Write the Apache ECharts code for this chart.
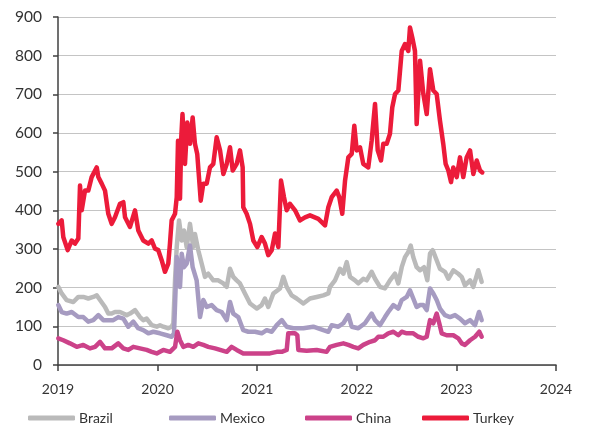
<!DOCTYPE html>
<html><head><meta charset="utf-8">
<script src="https://cdn.jsdelivr.net/npm/echarts@6/dist/echarts.min.js"></script>
<style>html,body{margin:0;padding:0;background:#fff}#c{width:595px;height:429px}</style>
</head><body><div id="c"></div>
<script>
const seriesNames = ['Brazil','Mexico','China','Turkey'];
const xTicks = [2019,2020,2021,2022,2023,2024];

const brazilT = [2019.003,2019.037,2019.087,2019.154,2019.204,2019.221,2019.254,2019.304,2019.354,2019.389,2019.422,2019.472,2019.505,2019.539,2019.572,2019.622,2019.656,2019.690,2019.723,2019.773,2019.823,2019.856,2019.890,2019.941,2019.991,2020.024,2020.057,2020.107,2020.141,2020.158,2020.175,2020.192,2020.215,2020.242,2020.265,2020.292,2020.325,2020.358,2020.375,2020.409,2020.443,2020.476,2020.509,2020.559,2020.609,2020.660,2020.694,2020.727,2020.760,2020.794,2020.827,2020.877,2020.928,2020.995,2021.045,2021.078,2021.111,2021.162,2021.229,2021.262,2021.296,2021.346,2021.396,2021.463,2021.530,2021.597,2021.664,2021.714,2021.731,2021.781,2021.831,2021.865,2021.899,2021.932,2021.982,2022.015,2022.065,2022.099,2022.149,2022.183,2022.233,2022.283,2022.333,2022.384,2022.417,2022.451,2022.484,2022.517,2022.541,2022.567,2022.601,2022.635,2022.675,2022.708,2022.735,2022.762,2022.802,2022.835,2022.885,2022.919,2022.969,2023.019,2023.053,2023.086,2023.137,2023.170,2023.220,2023.254];
const brazilV = [202,185,168,163,176,180,176,172,176,180,168,150,133,133,137,137,133,129,133,142,124,116,120,103,99,103,99,95,99,108,219,305,374,322,348,305,365,305,339,296,262,228,236,219,219,211,202,249,228,219,211,185,159,146,155,172,150,185,198,228,202,180,172,159,172,176,180,185,202,219,249,236,266,228,219,211,223,219,241,223,202,198,219,236,211,253,279,292,309,279,253,245,253,219,288,297,271,249,241,223,245,236,228,206,219,202,245,215];

const mexicoT = [2019.003,2019.037,2019.087,2019.138,2019.204,2019.254,2019.304,2019.354,2019.405,2019.455,2019.505,2019.555,2019.605,2019.656,2019.706,2019.756,2019.806,2019.856,2019.907,2019.957,2020.024,2020.091,2020.141,2020.165,2020.192,2020.225,2020.242,2020.265,2020.292,2020.325,2020.352,2020.392,2020.426,2020.459,2020.493,2020.543,2020.593,2020.643,2020.694,2020.727,2020.760,2020.810,2020.860,2020.911,2020.978,2021.045,2021.095,2021.146,2021.196,2021.247,2021.296,2021.362,2021.463,2021.563,2021.664,2021.714,2021.748,2021.814,2021.865,2021.915,2021.949,2022.015,2022.082,2022.149,2022.183,2022.233,2022.283,2022.316,2022.367,2022.417,2022.451,2022.501,2022.534,2022.567,2022.601,2022.635,2022.668,2022.702,2022.735,2022.768,2022.802,2022.835,2022.885,2022.936,2022.986,2023.036,2023.086,2023.137,2023.187,2023.227,2023.254];
const mexicoV = [155,137,133,137,124,124,112,116,129,116,116,116,124,120,99,112,95,90,82,86,82,77,73,82,279,202,288,253,262,309,253,219,124,168,150,155,142,137,116,163,133,124,90,86,86,82,90,86,103,116,99,95,95,99,90,86,103,99,108,129,99,95,108,133,116,103,124,137,155,146,168,176,193,172,150,155,155,142,198,185,168,146,129,124,129,120,108,116,103,137,116];

const chinaT = [2019.003,2019.053,2019.120,2019.188,2019.254,2019.321,2019.372,2019.422,2019.472,2019.539,2019.605,2019.656,2019.706,2019.756,2019.823,2019.890,2019.941,2019.991,2020.057,2020.124,2020.175,2020.198,2020.225,2020.258,2020.308,2020.358,2020.409,2020.459,2020.509,2020.576,2020.627,2020.694,2020.743,2020.794,2020.860,2020.928,2020.995,2021.061,2021.128,2021.196,2021.246,2021.296,2021.312,2021.379,2021.403,2021.413,2021.497,2021.597,2021.697,2021.731,2021.798,2021.865,2021.915,2021.965,2022.015,2022.065,2022.133,2022.183,2022.216,2022.266,2022.316,2022.367,2022.417,2022.451,2022.501,2022.567,2022.618,2022.668,2022.702,2022.735,2022.768,2022.802,2022.828,2022.852,2022.902,2022.969,2023.019,2023.053,2023.086,2023.137,2023.187,2023.230,2023.254];
const chinaV = [69,64,56,47,52,43,47,60,43,43,56,43,39,47,43,39,34,30,39,34,47,86,64,47,52,47,56,52,47,43,39,34,47,39,30,30,30,30,30,34,34,39,82,82,77,39,37,39,34,47,52,56,52,47,43,52,60,64,73,73,82,86,77,86,82,82,73,69,73,116,108,133,108,82,77,77,69,56,52,64,73,86,73];

const turkeyT = [2019.003,2019.037,2019.053,2019.097,2019.138,2019.171,2019.204,2019.221,2019.238,2019.271,2019.304,2019.338,2019.389,2019.405,2019.439,2019.472,2019.505,2019.539,2019.572,2019.622,2019.656,2019.673,2019.723,2019.773,2019.806,2019.856,2019.907,2019.941,2019.974,2020.007,2020.041,2020.074,2020.107,2020.124,2020.141,2020.175,2020.192,2020.205,2020.215,2020.225,2020.238,2020.250,2020.262,2020.275,2020.298,2020.325,2020.352,2020.375,2020.398,2020.433,2020.459,2020.493,2020.526,2020.559,2020.593,2020.627,2020.660,2020.694,2020.727,2020.754,2020.794,2020.827,2020.854,2020.860,2020.894,2020.928,2020.961,2021.001,2021.045,2021.078,2021.111,2021.146,2021.179,2021.212,2021.239,2021.269,2021.296,2021.329,2021.380,2021.430,2021.480,2021.530,2021.614,2021.681,2021.714,2021.748,2021.798,2021.824,2021.854,2021.882,2021.915,2021.949,2021.975,2021.999,2022.032,2022.065,2022.115,2022.149,2022.183,2022.210,2022.243,2022.266,2022.300,2022.333,2022.356,2022.384,2022.417,2022.451,2022.484,2022.517,2022.534,2022.557,2022.584,2022.601,2022.635,2022.668,2022.702,2022.735,2022.768,2022.802,2022.835,2022.868,2022.892,2022.919,2022.946,2022.969,2023.003,2023.036,2023.069,2023.103,2023.137,2023.170,2023.204,2023.237,2023.260];
const turkeyV = [365,374,331,297,322,314,327,464,400,451,451,486,511,486,469,451,391,365,382,417,421,382,357,400,348,322,314,322,301,297,271,241,262,314,374,391,434,580,520,430,590,649,653,520,627,572,640,572,546,425,469,469,511,520,589,555,494,520,563,503,520,555,511,408,391,365,322,305,331,314,284,297,340,305,477,434,400,417,400,374,382,387,378,361,408,434,451,434,391,477,537,546,619,555,563,520,511,580,675,555,529,572,572,598,666,701,710,812,830,812,873,847,812,623,787,701,649,765,710,701,632,572,520,503,473,511,486,537,486,537,555,494,529,503,498];

const colors = {Brazil:'#bababa', Mexico:'#a69bc1', China:'#cc4289', Turkey:'#ec1b3a'};
const zip = (t, v) => t.map((x, i) => [x, v[i]]);
const dataMap = {Brazil: zip(brazilT, brazilV), Mexico: zip(mexicoT, mexicoV), China: zip(chinaT, chinaV), Turkey: zip(turkeyT, turkeyV)};

const FONT = 'Lato, "Open Sans", sans-serif';
const legendLefts = [28, 169, 305, 422];
const chart = echarts.init(document.getElementById('c'), null, {renderer: 'canvas'});
chart.setOption({
  animation: false,
  backgroundColor: '#fff',
  grid: {left: 58, right: 39, top: 17, bottom: 64, containLabel: false},
  legend: seriesNames.map((n, i) => ({
    data: [n], left: legendLefts[i], top: 411, padding: 0, itemWidth: 47, itemHeight: 5, itemGap: 4,
    icon: 'roundRect',
    textStyle: {fontFamily: FONT, fontSize: 14, color: '#333', padding: [0, 0, 0, -1]}
  })),
  xAxis: {
    type: 'value', min: 2019, max: 2024, interval: 1,
    axisLine: {show: true, lineStyle: {color: '#404040', width: 1.5}},
    axisTick: {show: true, length: 6, lineStyle: {color: '#404040', width: 1.5}},
    axisLabel: {margin: 17, fontFamily: FONT, fontSize: 14, color: '#333', formatter: v => String(v)},
    splitLine: {show: false}
  },
  yAxis: {
    type: 'value', min: 0, max: 900, interval: 100,
    axisLine: {show: true, lineStyle: {color: '#404040', width: 1.5}},
    axisTick: {show: true, length: 5, lineStyle: {color: '#404040', width: 1.5}},
    axisLabel: {margin: 16, fontFamily: FONT, fontSize: 15.5, color: '#333'},
    splitLine: {show: true, lineStyle: {color: '#c4c4c4', width: 1.2}}
  },
  series: seriesNames.map(n => ({
    name: n, type: 'line', data: dataMap[n], showSymbol: false, symbol: 'none',
    color: colors[n],
    lineStyle: {color: colors[n], width: 4.5, cap: 'round', join: 'round'}
  }))
});
</script></body></html>
